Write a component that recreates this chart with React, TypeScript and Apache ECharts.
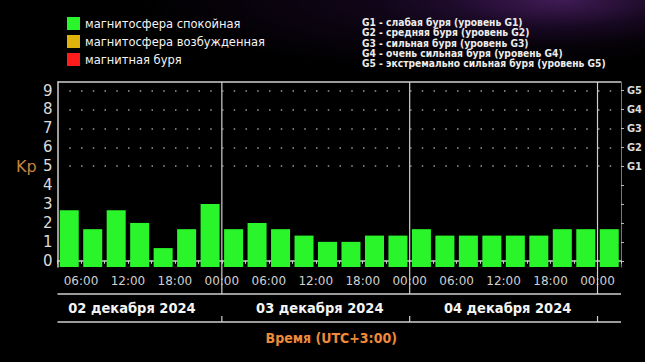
import React, { useEffect, useRef } from 'react';
import * as echarts from 'echarts';

// ---- data ----
const SLOTS = [
  '02.12 03:00', '02.12 06:00', '02.12 09:00', '02.12 12:00', '02.12 15:00', '02.12 18:00', '02.12 21:00',
  '03.12 00:00', '03.12 03:00', '03.12 06:00', '03.12 09:00', '03.12 12:00', '03.12 15:00', '03.12 18:00', '03.12 21:00',
  '04.12 00:00', '04.12 03:00', '04.12 06:00', '04.12 09:00', '04.12 12:00', '04.12 15:00', '04.12 18:00', '04.12 21:00',
  '05.12 00:00',
];
const KP = [
  2.67, 1.67, 2.67, 2.0, 0.67, 1.67, 3.0,
  1.67, 2.0, 1.67, 1.33, 1.0, 1.0, 1.33, 1.33,
  1.67, 1.33, 1.33, 1.33, 1.33, 1.33, 1.67, 1.67,
  1.67,
];
const AXIS_START_HOUR = 3;
const AXIS_END_HOUR = 75;
const TICK_HOURS = [6, 12, 18, 24, 30, 36, 42, 48, 54, 60, 66, 72];
const TICK_LABELS = ['06:00', '12:00', '18:00', '00:00', '06:00', '12:00', '18:00', '00:00', '06:00', '12:00', '18:00', '00:00'];
const DAY_LABELS = ['02 декабря 2024', '03 декабря 2024', '04 декабря 2024'];
const DAY_NOON_HOURS = [12, 36, 60];
const DAY_BREAK_HOURS = [24, 48, 72];
const Y_MIN = -0.33;
const Y_MAX = 9.45;
const Y_LABELS = [0, 1, 2, 3, 4, 5, 6, 7, 8, 9];
const G_LEVELS = [5, 6, 7, 8, 9];
const G_LABELS = ['G1', 'G2', 'G3', 'G4', 'G5'];
const LEGEND_NAMES = ['магнитосфера спокойная', 'магнитосфера возбужденная', 'магнитная буря'];
const LEGEND_COLORS = ['#2af52a', '#e0b20c', '#ff1c1c'];
const G_DESCRIPTIONS = [
  'G1 - слабая буря (уровень G1)',
  'G2 - средняя буря (уровень G2)',
  'G3 - сильная буря (уровень G3)',
  'G4 - очень сильная буря (уровень G4)',
  'G5 - экстремально сильная буря (уровень G5)',
];
const X_TITLE = 'Время (UTC+3:00)';
const Y_TITLE = 'Kp';

const FONT = '"DejaVu Sans", Verdana, sans-serif';
const FONT_COND = '"DejaVu Sans Condensed", "DejaVu Sans", sans-serif';

export default function App() {
  const ref = useRef<HTMLDivElement>(null);

  useEffect(() => {
    document.body.style.margin = '0';
    const chart = echarts.init(ref.current as HTMLDivElement, null, { renderer: 'svg' });

    const calm = KP.map((v) => (v < 4 ? v : '-'));
    const active = KP.map((v) => (v >= 4 && v < 5 ? v : '-'));
    const storm = KP.map((v) => (v >= 5 ? v : '-'));

    const option: any = {
      animation: false,
      backgroundColor: 'transparent',
      legend: {
        orient: 'vertical',
        left: 67,
        top: 17,
        padding: 0,
        itemWidth: 13,
        itemHeight: 13,
        itemGap: 5,
        icon: 'rect',
        selectedMode: false,
        data: LEGEND_NAMES,
        textStyle: { color: '#f4f4f4', fontSize: 11.5, fontFamily: FONT, padding: [0, 0, 0, 0] },
      },
      grid: { left: 57.5, right: 22, top: 82, bottom: 95 },
      xAxis: [
        { type: 'category', data: SLOTS, show: false, boundaryGap: true },
        {
          type: 'value',
          min: AXIS_START_HOUR,
          max: AXIS_END_HOUR,
          interval: 3,
          position: 'bottom',
          axisLine: { show: true, lineStyle: { color: '#cfcfcf', width: 1.5 } },
          axisTick: { show: true, length: 3, lineStyle: { color: '#cfcfcf' } },
          axisLabel: {
            customValues: TICK_HOURS,
            formatter: (v: number) => TICK_LABELS[TICK_HOURS.indexOf(v)] ?? '',
            color: '#d0d0d0',
            fontSize: 12,
            fontFamily: FONT,
            margin: 8,
          },
          splitLine: { show: false },
        },
      ],
      yAxis: [
        {
          type: 'value',
          min: Y_MIN,
          max: Y_MAX,
          startValue: Y_MIN,
          position: 'left',
          axisLine: { show: true, lineStyle: { color: '#cfcfcf', width: 1.5 } },
          axisTick: { show: false },
          axisLabel: {
            customValues: Y_LABELS,
            color: '#dcdcdc',
            fontSize: 15,
            fontFamily: FONT,
            margin: 5,
          },
          splitLine: { show: false },
        },
        {
          type: 'value',
          min: Y_MIN,
          max: Y_MAX,
          position: 'right',
          axisLine: { show: true, lineStyle: { color: '#777', width: 1 } },
          axisTick: { show: true, customValues: Y_LABELS, length: 3, lineStyle: { color: '#bbb' } },
          axisLabel: {
            customValues: G_LEVELS,
            formatter: (v: number) => G_LABELS[G_LEVELS.indexOf(v)] ?? '',
            color: '#dcdcdc',
            fontSize: 11,
            fontWeight: 'bold',
            fontFamily: FONT_COND,
            margin: 6,
          },
          splitLine: { show: false },
        },
      ],
      series: [
        {
          name: LEGEND_NAMES[0],
          type: 'bar',
          stack: 'kp',
          xAxisIndex: 0,
          yAxisIndex: 0,
          data: calm,
          barWidth: '81%',
          itemStyle: { color: LEGEND_COLORS[0] },
          markLine: {
            silent: true,
            symbol: ['none', 'none'],
            label: { show: false },
            lineStyle: { color: '#9a9a9a', type: [1.5, 10.25], width: 1.5 },
            data: G_LEVELS.map((v) => ({ yAxis: v })),
          },
        },
        {
          name: LEGEND_NAMES[1],
          type: 'bar',
          stack: 'kp',
          xAxisIndex: 0,
          yAxisIndex: 0,
          data: active,
          barWidth: '81%',
          itemStyle: { color: LEGEND_COLORS[1] },
        },
        {
          name: LEGEND_NAMES[2],
          type: 'bar',
          stack: 'kp',
          xAxisIndex: 0,
          yAxisIndex: 0,
          data: storm,
          barWidth: '81%',
          itemStyle: { color: LEGEND_COLORS[2] },
        },
      ],
    };

    chart.setOption(option);

    const px = (h: number) => chart.convertToPixel({ xAxisIndex: 1 }, h) as number;
    const py = (v: number) => chart.convertToPixel({ yAxisIndex: 0 }, v) as number;
    const xL = px(AXIS_START_HOUR);
    const xR = px(AXIS_END_HOUR);
    const yTop = py(Y_MAX);
    const yBot = py(Y_MIN);
    const line1Y = yBot + 27;
    const line2Y = yBot + 55;
    const stroke = '#cfcfcf';

    const graphic: any[] = [];
    graphic.push({ type: 'line', silent: true, shape: { x1: xL, y1: yTop, x2: xR, y2: yTop }, style: { stroke, lineWidth: 1.5 } });
    DAY_BREAK_HOURS.forEach((h) => {
      const x = px(h);
      graphic.push({ type: 'line', silent: true, shape: { x1: x, y1: yTop, x2: x, y2: line1Y }, style: { stroke, lineWidth: 1.2 } });
      graphic.push({ type: 'line', silent: true, shape: { x1: x, y1: line2Y - 6, x2: x, y2: line2Y }, style: { stroke, lineWidth: 1.2 } });
    });
    graphic.push({ type: 'line', silent: true, shape: { x1: xL, y1: line1Y, x2: xR, y2: line1Y }, style: { stroke, lineWidth: 1.5 } });
    graphic.push({ type: 'line', silent: true, shape: { x1: xL, y1: line2Y, x2: xR, y2: line2Y }, style: { stroke, lineWidth: 1.5 } });
    DAY_LABELS.forEach((t, i) => {
      graphic.push({
        type: 'text',
        silent: true,
        x: px(DAY_NOON_HOURS[i]) + 4,
        y: yBot + 41,
        style: { text: t, fill: '#f4f4f4', font: `bold 14.5px ${FONT_COND}`, align: 'center', verticalAlign: 'middle' },
      });
    });
    graphic.push({
      type: 'text',
      silent: true,
      x: (xL + xR) / 2 - 8,
      y: yBot + 71,
      style: { text: X_TITLE, fill: '#ee8a38', font: `bold 14px ${FONT_COND}`, align: 'center', verticalAlign: 'middle' },
    });
    graphic.push({
      type: 'text',
      silent: true,
      x: 16,
      y: py(5),
      style: { text: Y_TITLE, fill: '#c8843c', font: `16px ${FONT}`, align: 'left', verticalAlign: 'middle' },
    });
    graphic.push({
      type: 'text',
      silent: true,
      x: 362,
      y: 17.5,
      style: {
        text: G_DESCRIPTIONS.join('\n'),
        fill: '#ececec',
        font: `bold 10.2px ${FONT_COND}`,
        lineHeight: 10.2,
        align: 'left',
        verticalAlign: 'top',
      },
    });

    chart.setOption({ graphic });

    return () => chart.dispose();
  }, []);

  return (
    <div
      ref={ref}
      style={{
        position: 'absolute',
        left: 0,
        top: 0,
        width: 645,
        height: 362,
        background:
          'radial-gradient(ellipse 180px 45px at 560px 0px, rgba(80,34,105,0.75), rgba(45,16,65,0.35) 60%, rgba(0,0,0,0) 100%), radial-gradient(ellipse 330px 70px at 470px 0px, rgba(40,14,58,0.6), rgba(0,0,0,0) 100%), #000',
      }}
    />
  );
}
